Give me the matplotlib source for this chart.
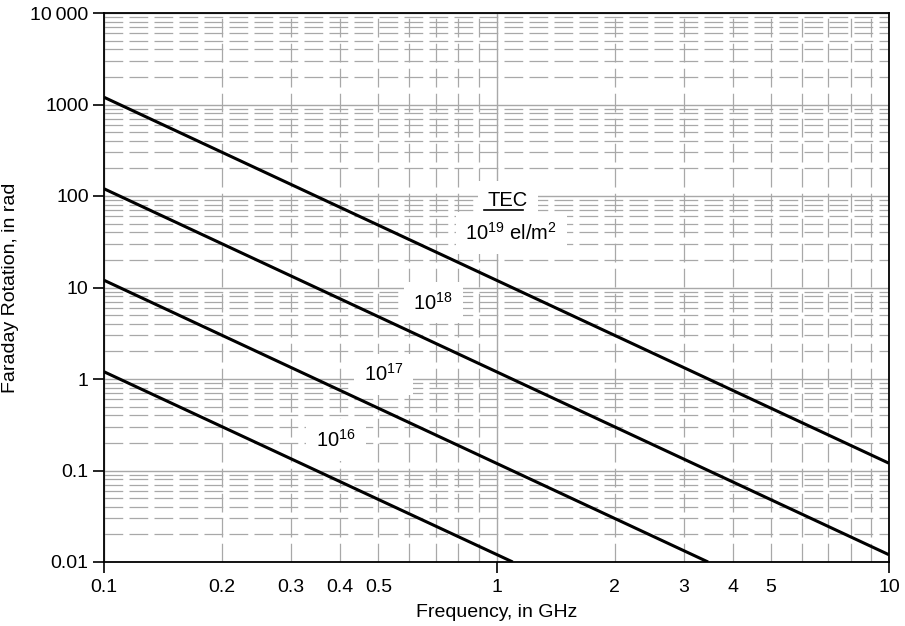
import matplotlib.pyplot as plt
from matplotlib.ticker import FixedLocator, FixedFormatter, NullFormatter

plt.rcParams['font.family'] = ['Liberation Sans', 'DejaVu Sans']
plt.rcParams['mathtext.fontset'] = 'custom'
plt.rcParams['mathtext.rm'] = 'Liberation Sans'
plt.rcParams['mathtext.it'] = 'Liberation Sans:italic'

# TEC lines: end points (frequency GHz, rotation rad)
f_1e19 = [0.1, 10]
rot_1e19 = [1200, 0.12]
f_1e18 = [0.1, 10]
rot_1e18 = [120, 0.012]
f_1e17 = [0.1, 3.46]
rot_1e17 = [12, 0.01]
f_1e16 = [0.1, 1.1]
rot_1e16 = [1.2, 0.01]

decade_x = [0.1, 1, 10]
decade_x_labels = ['0.1', '1', '10']
inner_x = [0.2, 0.3, 0.4, 0.5, 0.6, 0.7, 0.8, 0.9, 2, 3, 4, 5, 6, 7, 8, 9]
inner_x_labels = ['0.2', '0.3', '0.4', '0.5', '', '', '', '', '2', '3', '4', '5', '', '', '', '']
yticks = [0.01, 0.1, 1, 10, 100, 1000, 10000]
yticklabels = ['0.01', '0.1', '1', '10', '100', '1000', '10\u2009000']
inner_y = [m * 10.0 ** e for e in range(-2, 4) for m in range(2, 10)]

fig = plt.figure(figsize=(9.05, 6.26), dpi=100)
ax = fig.add_axes([104 / 905, 1 - 562 / 626, (889 - 104) / 905, (562 - 13) / 626])

ax.set_xscale('log')
ax.set_yscale('log')
ax.set_xlim(0.1, 10)
ax.set_ylim(0.01, 10000)

ax.xaxis.set_major_locator(FixedLocator(decade_x))
ax.xaxis.set_major_formatter(FixedFormatter(decade_x_labels))
ax.xaxis.set_minor_locator(FixedLocator(inner_x))
ax.xaxis.set_minor_formatter(FixedFormatter(inner_x_labels))
ax.yaxis.set_major_locator(FixedLocator(yticks))
ax.yaxis.set_major_formatter(FixedFormatter(yticklabels))
ax.yaxis.set_minor_locator(FixedLocator(inner_y))
ax.yaxis.set_minor_formatter(NullFormatter())

# grid: solid at decades, dashed in between
ax.grid(which='minor', color='#a8a8a8', lw=0.9, ls=(0, (15, 5)))
ax.grid(which='major', color='#a8a8a8', lw=1.0, ls='-')
ax.set_axisbelow(True)

ax.tick_params(which='major', direction='out', length=8, width=1.2,
               labelsize=14, colors='black', top=False, right=False, pad=4)
ax.tick_params(which='minor', length=0, labelsize=14, pad=12, top=False, right=False)
ax.tick_params(axis='y', which='major', pad=3)
for s in ax.spines.values():
    s.set_linewidth(1.3)
    s.set_color('black')

for f, r in [(f_1e19, rot_1e19), (f_1e18, rot_1e18), (f_1e17, rot_1e17), (f_1e16, rot_1e16)]:
    ax.plot(f, r, color='black', lw=2.2, solid_capstyle='butt', zorder=4)

box = dict(facecolor='white', edgecolor='none', pad=7)
ax.text(1.07, 90, 'TEC', ha='center', va='center', fontsize=14.5, bbox=box, zorder=3)
ax.plot([0.93, 1.17], [70, 70], color='black', lw=1.2, zorder=4)
ax.text(1.09, 39.5, r'10$^{19}$ el/m$^{2}$', ha='center', va='center', fontsize=14.5, bbox=box, zorder=3)
ax.text(0.69, 6.8, r'10$^{18}$', ha='center', va='center', fontsize=14.5, bbox=box, zorder=3)
ax.text(0.516, 1.13, r'10$^{17}$', ha='center', va='center', fontsize=14.5, bbox=box, zorder=3)
ax.text(0.39, 0.215, r'10$^{16}$', ha='center', va='center', fontsize=14.5, bbox=box, zorder=3)

ax.set_xlabel('Frequency, in GHz', fontsize=14, labelpad=6)
ax.set_ylabel('Faraday Rotation, in rad', fontsize=14, labelpad=8)

fig.savefig('out.png', dpi=100)
